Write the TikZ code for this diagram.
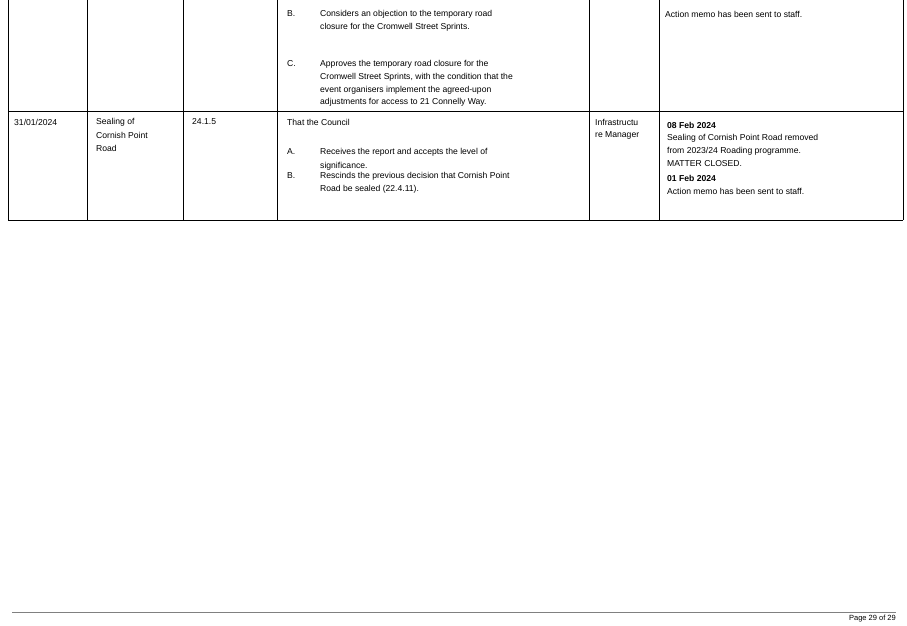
\documentclass[tikz,border=0pt]{standalone}
\usepackage{fontspec}
\setmainfont{Liberation Sans}
\begin{document}
\begin{tikzpicture}[x=1pt,y=-1pt,
  cell/.style={anchor=west,inner sep=0pt,font=\fontsize{8.6}{10}\selectfont},
  bold/.style={cell,font=\fontsize{8.6}{10}\selectfont\bfseries},
  rule/.style={line width=0.8pt}]
\useasboundingbox (0,0) rectangle (907,626);
% table frame
\draw[rule] (8,0) -- (8,220) (87,0) -- (87,220) (183,0) -- (183,220)
  (277,0) -- (277,220) (589,0) -- (589,220) (659,0) -- (659,220) (903,0) -- (903,220);
\draw[rule] (8,111) -- (903,111) (8,220) -- (903,220);
% first row
\node[cell] (b1) at (287,14) {B.};
\node[cell] (b1a) at (320,14) {Considers an objection to the temporary road};
\node[cell] (b1b) at (320,27) {closure for the Cromwell Street Sprints.};
\node[cell] (c1) at (287,64) {C.};
\node[cell] (c1a) at (320,64) {Approves the temporary road closure for the};
\node[cell] (c1b) at (320,77) {Cromwell Street Sprints, with the condition that the};
\node[cell] (c1c) at (320,90) {event organisers implement the agreed-upon};
\node[cell] (c1d) at (320,102) {adjustments for access to 21 Connelly Way.};
\node[cell] (memo1) at (665,14) {Action memo has been sent to staff.};
% second row
\node[cell] (date) at (14,122) {31/01/2024};
\node[cell] (subj1) at (96,122) {Sealing of};
\node[cell] (subj2) at (96,135) {Cornish Point};
\node[cell] (subj3) at (96,148) {Road};
\node[cell] (item) at (192,122) {24.1.5};
\node[cell] (council) at (287,122) {That the Council};
\node[cell] (a2) at (287,152) {A.};
\node[cell,text width=259pt,align=justify] (a2a) at (320,152) {Receives the report and accepts the level of};
\node[cell] (a2b) at (320,166) {significance.};
\node[cell] (b2) at (287,176) {B.};
\node[cell] (b2a) at (320,176) {Rescinds the previous decision that Cornish Point};
\node[cell] (b2b) at (320,189) {Road be sealed (22.4.11).};
\node[cell] (resp1) at (595,122) {Infrastructu};
\node[cell] (resp2) at (595,135) {re Manager};
\node[bold] (d1) at (667,125) {08 Feb 2024};
\node[cell] (s1) at (667,138) {Sealing of Cornish Point Road removed};
\node[cell] (s2) at (667,151) {from 2023/24 Roading programme.};
\node[cell] (s3) at (667,164) {MATTER CLOSED.};
\node[bold] (d2) at (667,178) {01 Feb 2024};
\node[cell] (memo2) at (667,191) {Action memo has been sent to staff.};
% footer
\draw[line width=0.4pt,gray] (12,612) -- (896,612);
\node[cell,anchor=east,font=\fontsize{7.5}{9}\selectfont] (page) at (896,619) {Page 29 of 29};
\end{tikzpicture}
\end{document}
